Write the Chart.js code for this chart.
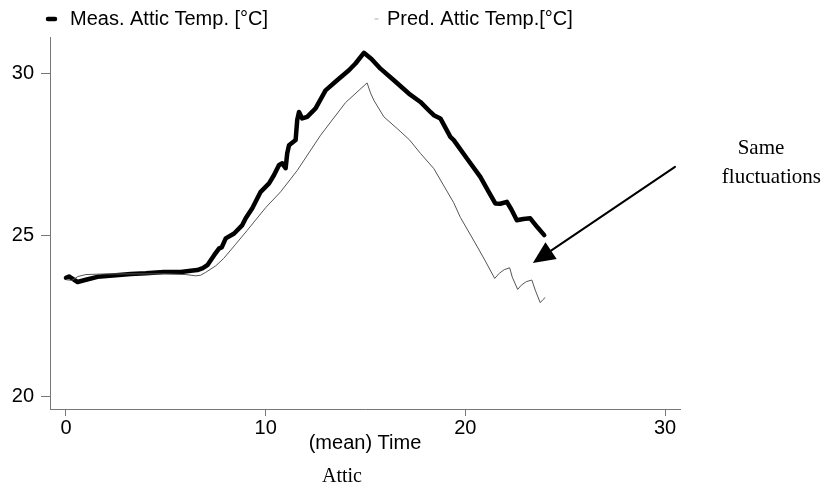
<!DOCTYPE html>
<html>
<head>
<meta charset="utf-8">
<script src="https://cdn.jsdelivr.net/npm/chart.js@4/dist/chart.umd.min.js"></script>
<style>
html, body { margin: 0; padding: 0; background: #fff; }
</style>
</head>
<body>
<canvas id="attic" width="825" height="489"></canvas>
<script>
// measured attic temperature (thick line)
var measTime = [0, 0.15, 0.3, 0.58, 1.0, 1.58, 2.5, 3.25, 4.0, 4.9, 5.75, 6.25, 6.58, 6.85, 7.08, 7.42, 7.67, 7.8, 8.0, 8.42,
	8.83, 9.0, 9.33, 9.75, 10.17, 10.42, 10.67, 10.83, 11.0, 11.08, 11.17, 11.5, 11.58, 11.67, 11.83, 12.08, 12.5, 13.0, 13.58, 14.17,
	14.5, 14.92, 15.3, 15.75, 16.42, 17.17, 17.75, 18.25, 18.42, 18.75, 19.25, 19.42, 20.08, 20.75, 21.17, 21.5, 21.75, 22.08, 22.3, 22.58,
	22.9, 23.25, 23.6, 23.95];
var measTemp = [23.68, 23.72, 23.66, 23.55, 23.62, 23.71, 23.76, 23.8, 23.82, 23.86, 23.86, 23.9, 23.92, 23.98, 24.07, 24.38, 24.59, 24.62, 24.9, 25.05,
	25.31, 25.52, 25.83, 26.34, 26.6, 26.86, 27.17, 27.22, 27.07, 27.53, 27.78, 27.94, 28.56, 28.81, 28.61, 28.66, 28.92, 29.48, 29.79, 30.1,
	30.31, 30.64, 30.45, 30.15, 29.79, 29.38, 29.12, 28.81, 28.71, 28.61, 28.04, 27.94, 27.37, 26.8, 26.34, 25.98, 25.97, 26.03, 25.8, 25.46,
	25.5, 25.52, 25.25, 25.0];

// predicted attic temperature (thin line)
var predTime = [0, 0.3, 0.6, 1.0, 2.0, 4.0, 5.0, 6.0, 6.5, 6.75, 7.0, 7.5, 7.9, 8.5, 9.08, 10.0, 10.75, 11.58, 12.75, 14.0,
	15.08, 15.25, 15.42, 15.92, 16.58, 17.2, 17.75, 18.42, 19.42, 19.75, 20.58, 21.0, 21.47, 21.7, 21.95, 22.22, 22.35, 22.62, 22.8, 23.05,
	23.33, 23.5, 23.75, 23.88, 24.0];
var predTemp = [23.62, 23.6, 23.72, 23.78, 23.8, 23.8, 23.8, 23.78, 23.74, 23.76, 23.85, 24.05, 24.28, 24.72, 25.15, 25.85, 26.34, 27.0, 28.09, 29.1,
	29.71, 29.4, 29.17, 28.66, 28.3, 27.95, 27.53, 27.06, 26.0, 25.55, 24.66, 24.2, 23.66, 23.82, 23.93, 23.99, 23.7, 23.32, 23.45, 23.56,
	23.61, 23.3, 22.91, 23.0, 23.07];

var xTicks = [0, 10, 20, 30];
var yTicks = [20, 25, 30];
var legendLabels = ["Meas. Attic Temp. [°C]", "Pred. Attic Temp.[°C]"];
var xTitle = "(mean) Time";
var caption = "Attic";
var noteLines = ["Same", "fluctuations"];
// arrow tail and tip, in data units
var arrowFrom = [30.5, 27.11];
var arrowTo = [23.38, 24.14];

function toPoints(xs, ys) {
	var pts = [];
	for (var i = 0; i < xs.length; i++) pts.push({x: xs[i], y: ys[i]});
	return pts;
}

var sans = '"Liberation Sans", Arial, sans-serif';
var serif = '"Liberation Serif", "Times New Roman", serif';

var extras = {
	id: 'extras',
	afterDraw: function(chart) {
		var ctx = chart.ctx;
		var xs = chart.scales.x, ys = chart.scales.y;
		ctx.save();
		ctx.fillStyle = '#000';
		ctx.strokeStyle = '#000';
		ctx.textBaseline = 'middle';

		// legend
		ctx.font = '20px ' + sans;
		ctx.textAlign = 'left';
		ctx.lineWidth = 4.5;
		ctx.lineCap = 'round';
		ctx.beginPath(); ctx.moveTo(48, 19); ctx.lineTo(55, 19); ctx.stroke();
		ctx.fillText(legendLabels[0], 70, 19);
		ctx.lineWidth = 1;
		ctx.strokeStyle = '#aaa';
		ctx.beginPath(); ctx.moveTo(375, 19); ctx.lineTo(378, 19); ctx.stroke();
		ctx.fillText(legendLabels[1], 387, 19);

		// axis title and caption
		ctx.textAlign = 'center';
		ctx.fillText(xTitle, (xs.left + xs.right) / 2, 443);
		ctx.font = '20px ' + serif;
		ctx.fillText(caption, 342, 477);

		// note
		ctx.font = '21px ' + serif;
		ctx.fillText(noteLines[0], 761, 148);
		ctx.textAlign = 'right';
		ctx.fillText(noteLines[1], 821, 177);

		// arrow
		var x0 = xs.getPixelForValue(arrowFrom[0]), y0 = ys.getPixelForValue(arrowFrom[1]);
		var x1 = xs.getPixelForValue(arrowTo[0]), y1 = ys.getPixelForValue(arrowTo[1]);
		var ang = Math.atan2(y1 - y0, x1 - x0);
		var headLen = 22, headW = 10;
		var bx = x1 - headLen * Math.cos(ang), by = y1 - headLen * Math.sin(ang);
		ctx.strokeStyle = '#000';
		ctx.lineWidth = 2;
		ctx.beginPath(); ctx.moveTo(x0, y0); ctx.lineTo(bx, by); ctx.stroke();
		ctx.beginPath();
		ctx.moveTo(x1, y1);
		ctx.lineTo(bx + headW * Math.sin(ang), by - headW * Math.cos(ang));
		ctx.lineTo(bx - headW * Math.sin(ang), by + headW * Math.cos(ang));
		ctx.closePath();
		ctx.fill();
		ctx.restore();
	}
};

var atticChart = new Chart("attic", {
	type: "line",
	data: {
		datasets: [{
			label: legendLabels[1],
			data: toPoints(predTime, predTemp),
			borderColor: '#555',
			borderWidth: 1,
			pointRadius: 0,
			tension: 0
		}, {
			label: legendLabels[0],
			data: toPoints(measTime, measTemp),
			borderColor: '#000',
			borderWidth: 4.5,
			borderJoinStyle: 'round',
			borderCapStyle: 'round',
			pointRadius: 0,
			tension: 0
		}]
	},
	options: {
		responsive: false,
		animation: false,
		devicePixelRatio: 1,
		layout: { padding: { left: 0, right: 145, top: 37, bottom: 0 } },
		plugins: { legend: { display: false }, tooltip: { enabled: false } },
		scales: {
			x: {
				type: 'linear',
				min: -0.8,
				max: 30.75,
				afterBuildTicks: function(axis) { axis.ticks = xTicks.map(function(v) { return {value: v}; }); },
				afterFit: function(axis) { axis.height = 80; },
				grid: { drawOnChartArea: false, drawTicks: true, tickLength: 7, color: '#777' },
				border: { display: true, color: '#777', width: 1 },
				ticks: { color: '#000', font: { size: 20, family: sans }, padding: 0, maxRotation: 0 }
			},
			y: {
				min: 19.62,
				max: 31.13,
				afterBuildTicks: function(axis) { axis.ticks = yTicks.map(function(v) { return {value: v}; }); },
				afterFit: function(axis) { axis.width = 50; },
				grid: { drawOnChartArea: false, drawTicks: true, tickLength: 9, color: '#777' },
				border: { display: true, color: '#777', width: 1 },
				ticks: { color: '#000', font: { size: 20, family: sans }, padding: 7 }
			}
		}
	},
	plugins: [extras]
});
</script>
</body>
</html>
